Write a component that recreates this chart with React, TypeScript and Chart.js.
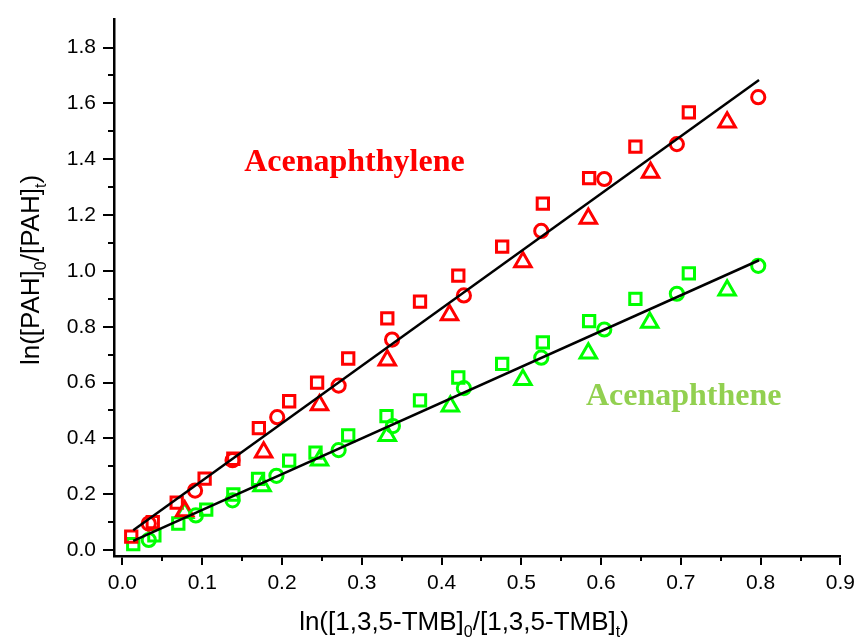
import React, { useEffect, useRef } from 'react';
import { Chart, registerables } from 'chart.js';

Chart.register(...registerables);

// ---- Axis ticks ----
const xTicks = [0, 0.1, 0.2, 0.3, 0.4, 0.5, 0.6, 0.7, 0.8, 0.9];
const xTickLabels = ['0.0', '0.1', '0.2', '0.3', '0.4', '0.5', '0.6', '0.7', '0.8', '0.9'];
const xMinorTicks = [0.05, 0.15, 0.25, 0.35, 0.45, 0.55, 0.65, 0.75, 0.85];
const yTicks = [0, 0.2, 0.4, 0.6, 0.8, 1.0, 1.2, 1.4, 1.6, 1.8];
const yTickLabels = ['0.0', '0.2', '0.4', '0.6', '0.8', '1.0', '1.2', '1.4', '1.6', '1.8'];
const yMinorTicks = [0.1, 0.3, 0.5, 0.7, 0.9, 1.1, 1.3, 1.5, 1.7];

// ---- Acenaphthylene (red) ----
const redSquareX = [0.011, 0.038, 0.068, 0.103, 0.139, 0.171, 0.209, 0.244, 0.283, 0.332, 0.373, 0.421, 0.476, 0.527, 0.585, 0.643, 0.710];
const redSquareY = [0.048, 0.100, 0.170, 0.256, 0.327, 0.437, 0.533, 0.600, 0.686, 0.830, 0.890, 0.983, 1.087, 1.241, 1.332, 1.445, 1.568];
const redCircleX = [0.033, 0.091, 0.138, 0.194, 0.271, 0.338, 0.428, 0.525, 0.604, 0.695, 0.797];
const redCircleY = [0.095, 0.213, 0.322, 0.476, 0.589, 0.754, 0.912, 1.143, 1.329, 1.454, 1.622];
const redTriangleX = [0.078, 0.177, 0.247, 0.332, 0.410, 0.502, 0.584, 0.662, 0.758];
const redTriangleY = [0.140, 0.350, 0.520, 0.680, 0.842, 1.032, 1.188, 1.352, 1.532];
const redFitX = [0.0135, 0.798];
const redFitY = [0.071, 1.684];

// ---- Acenaphthene (green) ----
const greenSquareX = [0.0135, 0.040, 0.070, 0.105, 0.139, 0.170, 0.209, 0.242, 0.283, 0.331, 0.373, 0.421, 0.476, 0.527, 0.585, 0.643, 0.710];
const greenSquareY = [0.021, 0.053, 0.095, 0.145, 0.199, 0.255, 0.320, 0.349, 0.411, 0.480, 0.536, 0.618, 0.667, 0.744, 0.820, 0.900, 0.991];
const greenCircleX = [0.033, 0.092, 0.138, 0.193, 0.271, 0.339, 0.428, 0.525, 0.604, 0.695, 0.797];
const greenCircleY = [0.036, 0.124, 0.178, 0.266, 0.358, 0.444, 0.580, 0.689, 0.790, 0.918, 1.018];
const greenTriangleX = [0.078, 0.175, 0.247, 0.332, 0.411, 0.502, 0.584, 0.661, 0.758];
const greenTriangleY = [0.134, 0.229, 0.322, 0.409, 0.515, 0.610, 0.705, 0.815, 0.931];
const greenFitX = [0.0135, 0.798];
const greenFitY = [0.033, 1.038];

// ---- Text ----
const xTitleParts = ['ln([1,3,5-TMB]', '0', '/[1,3,5-TMB]', 't', ')'];
const yTitleParts = ['ln([PAH]', '0', '/[PAH]', 't', ')'];
const labelRed = 'Acenaphthylene';
const labelGreen = 'Acenaphthene';

const RED = '#ff0000';
const GREEN = '#00ff00';
const LIGHT_GREEN = '#92d050';
const SANS = 'Arial, "Liberation Sans", sans-serif';
const SERIF = '"Times New Roman", "Liberation Serif", serif';

const pts = (xs: number[], ys: number[]) => xs.map((x, i) => ({ x, y: ys[i] }));

function drawParts(ctx: CanvasRenderingContext2D, parts: string[], cx: number, baseline: number) {
  const main = `26px ${SANS}`;
  const sub = `16px ${SANS}`;
  let total = 0;
  parts.forEach((p, i) => {
    ctx.font = i % 2 === 1 ? sub : main;
    total += ctx.measureText(p).width;
  });
  let x = cx - total / 2;
  ctx.textAlign = 'left';
  ctx.textBaseline = 'alphabetic';
  parts.forEach((p, i) => {
    const isSub = i % 2 === 1;
    ctx.font = isSub ? sub : main;
    ctx.fillText(p, x, baseline + (isSub ? 7 : 0));
    x += ctx.measureText(p).width;
  });
}

const decorPlugin = {
  id: 'decor',
  afterDraw(chart: any) {
    const { ctx, chartArea, scales } = chart;
    const xs = scales.x;
    const ys = scales.y;
    ctx.save();
    ctx.strokeStyle = '#000';
    ctx.lineWidth = 2;
    // minor ticks
    xMinorTicks.forEach((v) => {
      const px = Math.round(xs.getPixelForValue(v));
      ctx.beginPath();
      ctx.moveTo(px, chartArea.bottom);
      ctx.lineTo(px, chartArea.bottom + 5);
      ctx.stroke();
    });
    yMinorTicks.forEach((v) => {
      const py = Math.round(ys.getPixelForValue(v));
      ctx.beginPath();
      ctx.moveTo(chartArea.left, py);
      ctx.lineTo(chartArea.left - 6, py);
      ctx.stroke();
    });
    ctx.fillStyle = '#000';
    // x title
    drawParts(ctx, xTitleParts, 464, 630);
    // y title
    ctx.save();
    ctx.translate(39, 270);
    ctx.rotate(-Math.PI / 2);
    drawParts(ctx, yTitleParts, 0, 0);
    ctx.restore();
    // annotations
    ctx.font = `bold 32px ${SERIF}`;
    ctx.textAlign = 'left';
    ctx.textBaseline = 'alphabetic';
    ctx.fillStyle = RED;
    ctx.fillText(labelRed, xs.getPixelForValue(0.1526), ys.getPixelForValue(1.358));
    ctx.fillStyle = LIGHT_GREEN;
    ctx.fillText(labelGreen, xs.getPixelForValue(0.581), ys.getPixelForValue(0.521));
    ctx.restore();
  },
};

export default function App() {
  const ref = useRef<HTMLCanvasElement | null>(null);
  useEffect(() => {
    if (!ref.current) return;
    const markerBase = {
      showLine: false,
      borderWidth: 3,
      pointBorderWidth: 3,
      pointBackgroundColor: 'rgba(0,0,0,0)',
      backgroundColor: 'rgba(0,0,0,0)',
    };
    const chart = new Chart(ref.current, {
      type: 'scatter',
      data: {
        datasets: [
          { data: pts(redFitX, redFitY), showLine: true, borderColor: '#000', borderWidth: 2.5, pointRadius: 0, fill: false },
          { data: pts(greenFitX, greenFitY), showLine: true, borderColor: '#000', borderWidth: 2.5, pointRadius: 0, fill: false },
          { ...markerBase, data: pts(redCircleX, redCircleY), pointStyle: 'circle', pointRadius: 6.6, borderColor: RED, pointBorderColor: RED },
          { ...markerBase, data: pts(greenCircleX, greenCircleY), pointStyle: 'circle', pointRadius: 6.6, borderColor: GREEN, pointBorderColor: GREEN },
          { ...markerBase, data: pts(redTriangleX, redTriangleY), pointStyle: 'triangle', pointRadius: 9.5, borderColor: RED, pointBorderColor: RED },
          { ...markerBase, data: pts(greenTriangleX, greenTriangleY), pointStyle: 'triangle', pointRadius: 9.5, borderColor: GREEN, pointBorderColor: GREEN },
          { ...markerBase, data: pts(redSquareX, redSquareY), pointStyle: 'rect', pointRadius: 8, borderColor: RED, pointBorderColor: RED },
          { ...markerBase, data: pts(greenSquareX, greenSquareY), pointStyle: 'rect', pointRadius: 8, borderColor: GREEN, pointBorderColor: GREEN },
        ] as any,
      },
      options: {
        animation: false,
        responsive: false,
        devicePixelRatio: 1,
        layout: { padding: { left: 0, right: 16, top: 15, bottom: 0 } },
        plugins: { legend: { display: false }, tooltip: { enabled: false } },
        elements: { point: { hoverRadius: 0 } },
        scales: {
          x: {
            type: 'linear',
            min: -0.0106,
            max: 0.9,
            afterBuildTicks: (s: any) => {
              s.ticks = xTicks.map((v) => ({ value: v }));
            },
            afterFit: (s: any) => {
              s.height = 81;
            },
            ticks: {
              color: '#000',
              font: { family: SANS, size: 21 },
              padding: 6,
              maxRotation: 0,
              autoSkip: false,
              callback: (_v: any, i: number) => xTickLabels[i],
            },
            grid: { drawOnChartArea: false, drawTicks: true, tickLength: 9, color: '#000', lineWidth: 2 },
            border: { display: true, color: '#000', width: 2.5 },
          },
          y: {
            type: 'linear',
            min: -0.0213,
            max: 1.9,
            afterBuildTicks: (s: any) => {
              s.ticks = yTicks.map((v) => ({ value: v }));
            },
            afterFit: (s: any) => {
              s.width = 114;
            },
            ticks: {
              color: '#000',
              font: { family: SANS, size: 21 },
              padding: 7,
              autoSkip: false,
              callback: (_v: any, i: number) => yTickLabels[i],
            },
            grid: { drawOnChartArea: false, drawTicks: true, tickLength: 11, color: '#000', lineWidth: 2 },
            border: { display: true, color: '#000', width: 2.5 },
          },
        },
      } as any,
      plugins: [decorPlugin],
    });
    return () => chart.destroy();
  }, []);
  return (
    <div style={{ position: 'fixed', left: 0, top: 0, width: 861, height: 637, background: '#fff' }}>
      <canvas ref={ref} width={861} height={637} style={{ width: 861, height: 637, display: 'block' }} />
    </div>
  );
}
